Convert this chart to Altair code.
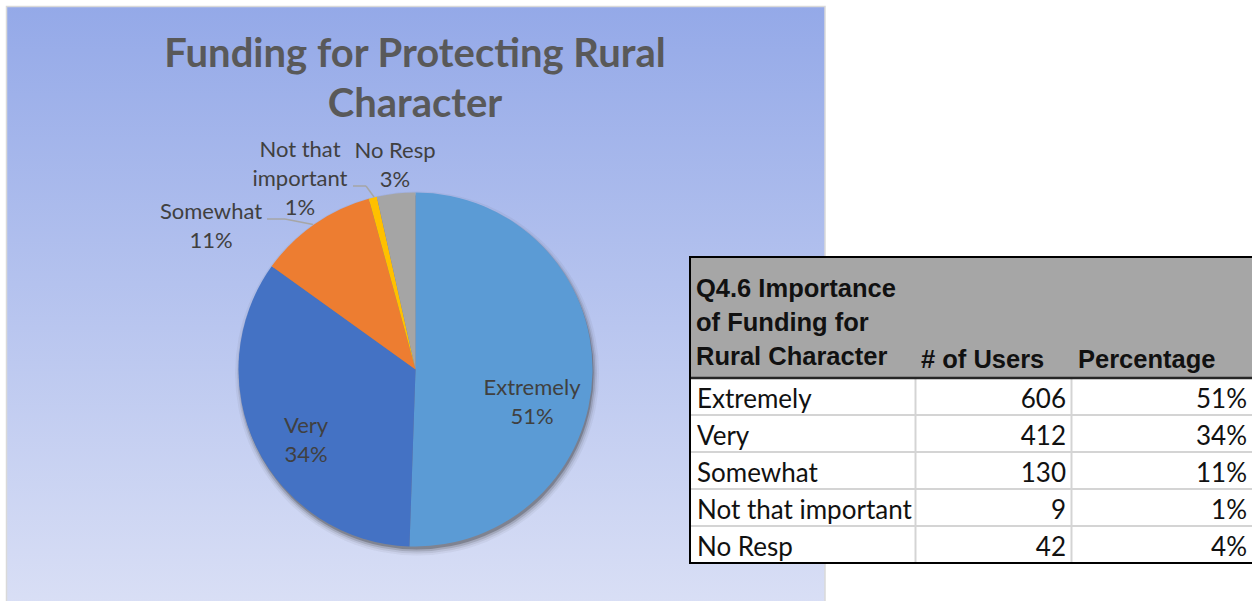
import math
import altair as alt
import pandas as pd

# ---------------- data ----------------
categories = ["Extremely", "Very", "Somewhat", "Not that important", "No Resp"]
users = [606, 412, 130, 9, 42]
pie_pct = ["51%", "34%", "11%", "1%", "3%"]
table_pct = ["51%", "34%", "11%", "1%", "4%"]
pie_label_names = ["Extremely", "Very", "Somewhat", "Not that\nimportant", "No Resp"]
slice_colors = ["#5B9BD5", "#4472C4", "#ED7D31", "#FFC000", "#A5A5A5"]
title_lines = ["Funding for Protecting Rural", "Character"]
header_lines = ["Q4.6 Importance", "of Funding for", "Rural Character"]
col_headers = ["# of Users", "Percentage"]

# ---------------- layout ----------------
W, H = 1252, 601
CX, CY, R = 415.5, 369.5, 177
LABEL_POS = {  # centre of each label block
    "Extremely": (532, 402),
    "Very": (306, 440.5),
    "Somewhat": (211, 226.5),
    "Not that important": (300, 179),
    "No Resp": (395, 165),
}
LBL_LH = 29
TBL_L, TBL_R, TBL_T, HDR_B, TBL_B = 690, 1262, 257, 378, 563
COL1, COL2 = 915.5, 1071.5

df = pd.DataFrame({
    "cat": categories,
    "users": users,
    "order": list(range(len(categories))),
    "pie_label": [n + "\n" + p for n, p in zip(pie_label_names, pie_pct)],
    "pct": table_pct,
})
one = pd.DataFrame({"a": [0]})

# background panel with gradient
panel = alt.Chart(one).mark_rect(
    fill={
        "gradient": "linear", "x1": 0, "y1": 0, "x2": 0, "y2": 1,
        "stops": [
            {"offset": 0, "color": "#94A9E8"},
            {"offset": 1, "color": "#DDE2F6"},
        ],
    },
    stroke="#D9D9D9", strokeWidth=1.5,
).encode(x=alt.value(6.5), x2=alt.value(825), y=alt.value(6.5), y2=alt.value(640))

TITLE_LH = 50
title = alt.Chart(one).mark_text(
    x=415, y=80 - (len(title_lines) - 1) * TITLE_LH / 2, align="center", baseline="middle",
    font="Lato", fontWeight="bold", fontSize=40, color="#595959", lineHeight=TITLE_LH,
).encode(text=alt.value(title_lines))

# pie shadow (soft)
shadows = []
for dr, op, off in [(5, 0.05, 4), (3, 0.09, 4), (1.5, 0.16, 3.5), (0, 0.30, 3)]:
    shadows.append(
        alt.Chart(one).mark_arc(
            x=CX + off * 0.4, y=CY + off, outerRadius=R + dr, color="#2E2E2E", opacity=op
        ).encode(theta=alt.value(0), theta2=alt.value(2 * math.pi))
    )

pie = alt.Chart(df).mark_arc(x=CX, y=CY, outerRadius=R).encode(
    theta=alt.Theta("users:Q", stack=True),
    order=alt.Order("order:Q"),
    color=alt.Color("cat:N", scale=alt.Scale(domain=categories, range=slice_colors), legend=None),
)

labels = []
for c, txt in zip(categories, df["pie_label"]):
    lx, ly = LABEL_POS[c]
    n = txt.count("\n") + 1
    labels.append(
        alt.Chart(df).transform_filter(alt.datum.cat == c).mark_text(
            x=lx, y=ly - (n - 1) * LBL_LH / 2, align="center", baseline="middle",
            font="Lato", fontSize=22, color="#404040", lineBreak="\n", lineHeight=LBL_LH,
        ).encode(text="pie_label:N")
    )

lead_style = dict(color="#A6A6A6", strokeWidth=1.5)
leaders = [
    alt.Chart(one).mark_rule(**lead_style).encode(x=alt.value(267), x2=alt.value(285), y=alt.value(219), y2=alt.value(219)),
    alt.Chart(one).mark_rule(**lead_style).encode(x=alt.value(285), x2=alt.value(313), y=alt.value(219), y2=alt.value(224.5)),
    alt.Chart(one).mark_rule(**lead_style).encode(x=alt.value(353), x2=alt.value(366), y=alt.value(186), y2=alt.value(186)),
    alt.Chart(one).mark_rule(**lead_style).encode(x=alt.value(366), x2=alt.value(374), y=alt.value(186), y2=alt.value(197)),
]

# ---------------- table ----------------
yscale = alt.Scale(domain=categories, range=[HDR_B, TBL_B], paddingInner=0, paddingOuter=0)
Y = alt.Y("cat:N", sort=categories, scale=yscale, axis=None)

hdr = alt.Chart(one).mark_rect(fill="#A6A6A6").encode(
    x=alt.value(TBL_L), x2=alt.value(TBL_R), y=alt.value(TBL_T), y2=alt.value(HDR_B))
rows = alt.Chart(df).mark_rect(fill="white", stroke="#D4D4D4", strokeWidth=2).encode(
    y=Y, x=alt.value(TBL_L), x2=alt.value(TBL_R))
seps = [
    alt.Chart(one).mark_rule(color="#D4D4D4", strokeWidth=2).encode(
        x=alt.value(cx), y=alt.value(HDR_B), y2=alt.value(TBL_B))
    for cx in (COL1, COL2)
]
hdr_line = alt.Chart(one).mark_rule(color="#262626", strokeWidth=2.5).encode(
    x=alt.value(TBL_L), x2=alt.value(TBL_R), y=alt.value(HDR_B), y2=alt.value(HDR_B))
border = alt.Chart(one).mark_rect(filled=False, stroke="black", strokeWidth=2).encode(
    x=alt.value(TBL_L), x2=alt.value(TBL_R), y=alt.value(TBL_T), y2=alt.value(TBL_B))

hdr_font = dict(font="Liberation Sans", fontWeight="bold", fontSize=25.5, color="#111111",
                baseline="alphabetic", align="left")
hdr_text = alt.Chart(one).mark_text(x=696, y=297, lineHeight=34, **hdr_font).encode(
    text=alt.value(header_lines))
col_text = [
    alt.Chart(one).mark_text(x=cx, y=368, **hdr_font).encode(text=alt.value(t))
    for cx, t in zip((921, 1078), col_headers)
]

cell = dict(font="Lato", fontSize=26, color="#111111", baseline="alphabetic", dy=11.5)
t_name = alt.Chart(df).mark_text(x=697, align="left", **cell).encode(y=Y, text="cat:N")
t_users = alt.Chart(df).mark_text(x=1066, align="right", **cell).encode(y=Y, text=alt.Text("users:Q", format="d"))
t_pct = alt.Chart(df).mark_text(x=1247, align="right", **cell).encode(y=Y, text="pct:N")

chart = alt.layer(
    panel, title, *shadows, pie, *labels, *leaders,
    hdr, rows, *seps, hdr_line, border, hdr_text, *col_text, t_name, t_users, t_pct,
).properties(
    width=W, height=H, padding=0, autosize="none", background="white"
).configure_view(stroke=None)

chart.save("out.html", embed_options={"renderer": "svg", "actions": False})
